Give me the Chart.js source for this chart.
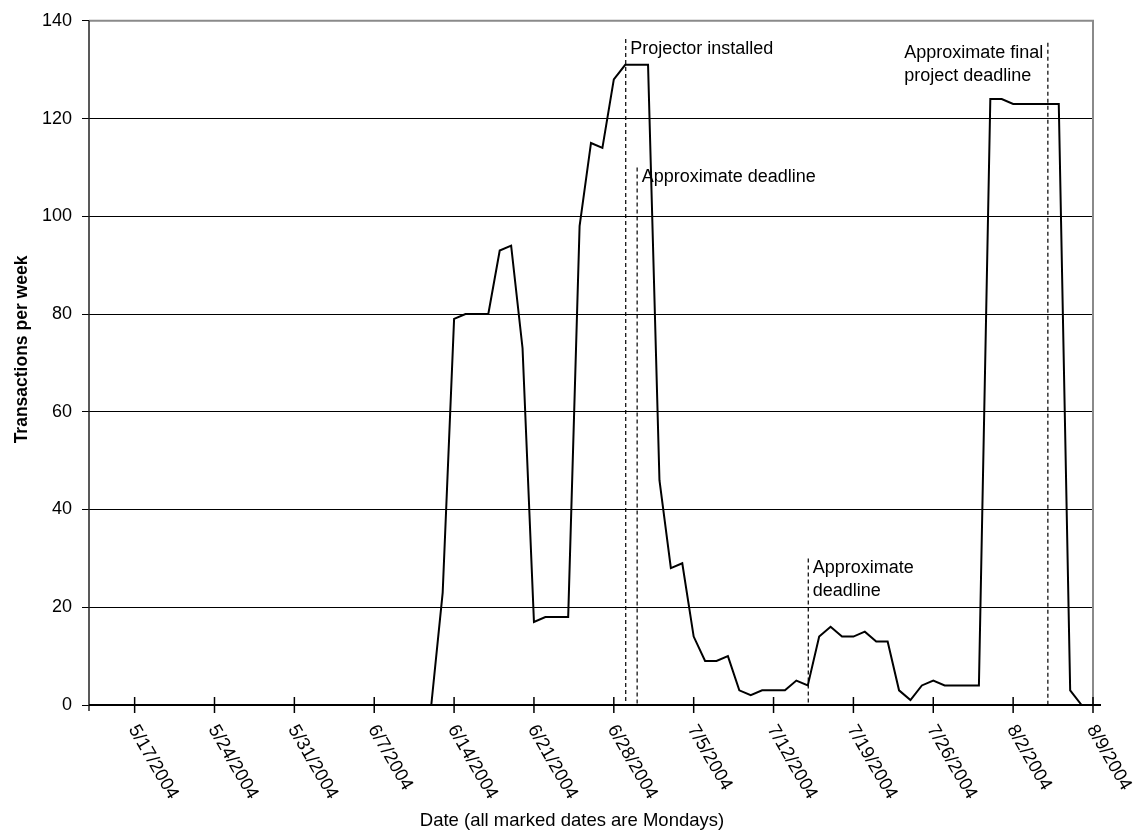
<!DOCTYPE html>
<html>
<head>
<meta charset="utf-8">
<script src="https://cdn.jsdelivr.net/npm/chart.js@4/dist/chart.umd.min.js"></script>
<style>
  html, body { margin: 0; padding: 0; background: #fff; }
  #chart { display: block; }
</style>
</head>
<body>
<canvas id="chart" width="1136" height="831"></canvas>
<script>
// one category per day, 5/13/2004 .. 8/9/2004
const days = [];
for (let i = 0; i < 89; i++) {
  const d = new Date(2004, 4, 13 + i);
  days.push((d.getMonth() + 1) + "/" + d.getDate() + "/" + d.getFullYear());
}

// transactions per day, last day has no value
const counts = [
  0, 0, 0, 0, 0, 0, 0, 0, 0, 0,
  0, 0, 0, 0, 0, 0, 0, 0, 0, 0,
  0, 0, 0, 0, 0, 0, 0, 0, 0, 0,
  0, 23, 79, 80, 80, 80, 93, 94, 73, 17,
  18, 18, 18, 98, 115, 114, 128, 131, 131, 131,
  46, 28, 29, 14, 9, 9, 10, 3, 2, 3,
  3, 3, 5, 4, 14, 16, 14, 14, 15, 13,
  13, 3, 1, 4, 5, 4, 4, 4, 4, 124,
  124, 123, 123, 123, 123, 123, 3, 0
];

// Mondays that get a tick and a label
const tickLabels = [
  "5/17/2004", "5/24/2004", "5/31/2004", "6/7/2004", "6/14/2004", "6/21/2004",
  "6/28/2004", "7/5/2004", "7/12/2004", "7/19/2004", "7/26/2004", "8/2/2004", "8/9/2004"
];

const xTitle = "Date (all marked dates are Mondays)";
const yTitle = "Transactions per week";

// dashed marker lines: date, value where the line starts, text
const markerDates = ["6/29/2004", "6/30/2004", "7/15/2004", "8/5/2004"];
const markerTops = [136.3, 110, 30, 135.5];
const markerTexts = [
  ["Projector installed"],
  ["Approximate deadline"],
  ["Approximate", "deadline"],
  ["Approximate final", "project deadline"]
];

const FONT = '"Liberation Sans", Arial, sans-serif';
Chart.defaults.font.family = FONT;
Chart.defaults.color = "#000";

const decor = {
  id: "decor",
  afterDatasetsDraw(chart) {
    const ctx = chart.ctx;
    const area = chart.chartArea;
    const xs = chart.scales.x;
    const ys = chart.scales.y;
    ctx.save();

    // grey frame top/right
    ctx.strokeStyle = "#8a8a8a";
    ctx.lineWidth = 2;
    ctx.beginPath();
    ctx.moveTo(area.left, area.top);
    ctx.lineTo(area.right, area.top);
    ctx.lineTo(area.right, area.bottom);
    ctx.stroke();

    // y axis line
    ctx.strokeStyle = "#222";
    ctx.lineWidth = 1.5;
    ctx.beginPath();
    ctx.moveTo(area.left, area.top);
    ctx.lineTo(area.left, area.bottom + 6);
    ctx.stroke();

    // x axis line
    ctx.strokeStyle = "#000";
    ctx.lineWidth = 2;
    ctx.beginPath();
    ctx.moveTo(area.left, area.bottom);
    ctx.lineTo(area.right + 8, area.bottom);
    ctx.stroke();

    // x tick marks and rotated labels
    ctx.lineWidth = 1.5;
    ctx.font = "18.5px " + FONT;
    ctx.fillStyle = "#000";
    ctx.textAlign = "left";
    ctx.textBaseline = "alphabetic";
    tickLabels.forEach((lab) => {
      const x = xs.getPixelForValue(days.indexOf(lab));
      ctx.beginPath();
      ctx.moveTo(x, area.bottom - 8);
      ctx.lineTo(x, area.bottom + 8);
      ctx.stroke();
      ctx.save();
      ctx.translate(x - 6.5, area.bottom + 24);
      ctx.rotate(Math.PI / 3);
      ctx.fillText(lab, 0, 0);
      ctx.restore();
    });

    // axis titles
    ctx.textAlign = "center";
    ctx.fillText(xTitle, 572, 826);
    ctx.save();
    ctx.font = "bold 17.5px " + FONT;
    ctx.translate(27, 349.5);
    ctx.rotate(-Math.PI / 2);
    ctx.fillText(yTitle, 0, 0);
    ctx.restore();
    ctx.textAlign = "left";

    // dashed markers and their notes
    ctx.font = "18px " + FONT;
    markerDates.forEach((md, i) => {
      const x = xs.getPixelForValue(days.indexOf(md));
      const top = ys.getPixelForValue(markerTops[i]);
      ctx.save();
      ctx.strokeStyle = "#000";
      ctx.lineWidth = 1.2;
      ctx.setLineDash([4, 3]);
      ctx.beginPath();
      ctx.moveTo(x + 0.5, top);
      ctx.lineTo(x + 0.5, area.bottom);
      ctx.stroke();
      ctx.restore();

      const lines = markerTexts[i];
      const w = Math.max(...lines.map((t) => ctx.measureText(t).width));
      let tx = x + 5;
      if (tx + w > area.right) tx = x - 4 - w;
      lines.forEach((t, j) => {
        ctx.fillText(t, tx, top + 15 + j * 23);
      });
    });

    ctx.restore();
  }
};

new Chart(document.getElementById("chart"), {
  type: "line",
  data: {
    labels: days,
    datasets: [{
      data: counts,
      borderColor: "#000",
      borderWidth: 2,
      pointRadius: 0,
      tension: 0,
      fill: false
    }]
  },
  options: {
    responsive: false,
    animation: false,
    devicePixelRatio: 1,
    layout: { padding: { top: 20, right: 43, left: 0, bottom: 0 } },
    plugins: {
      legend: { display: false },
      tooltip: { enabled: false }
    },
    scales: {
      x: {
        type: "category",
        offset: false,
        ticks: { display: false },
        grid: { display: false },
        border: { display: false },
        afterFit(s) { s.height = 126; }
      },
      y: {
        min: 0,
        max: 140,
        ticks: { stepSize: 20, color: "#000", font: { size: 18 }, padding: 10 },
        grid: { color: "#000", lineWidth: 1, tickLength: 7, drawTicks: true },
        border: { display: false },
        afterFit(s) { s.width = 89; }
      }
    }
  },
  plugins: [decor]
});
</script>
</body>
</html>
